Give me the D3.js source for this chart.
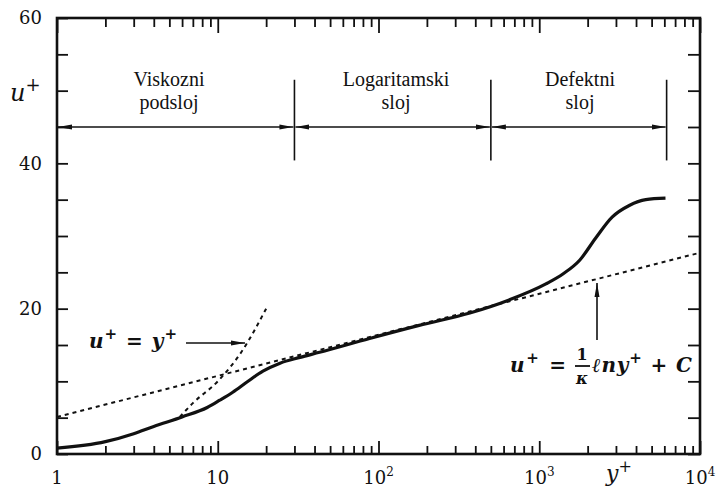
<!DOCTYPE html>
<html>
<head>
<meta charset="utf-8">
<script src="https://cdn.jsdelivr.net/npm/d3@7"></script>
<style>
  body { margin: 0; background: #fff; }
  svg { display: block; }
  .tick text { font-family: "DejaVu Serif", "Liberation Serif", "Times New Roman", serif; font-size: 18px; fill: #111; }
  .lbl { font-family: "Liberation Serif", "Times New Roman", "DejaVu Serif", serif; font-size: 20px; fill: #111; }
  .num { font-family: "DejaVu Serif", "Liberation Serif", serif; font-size: 18px; fill: #111; }
  .eq { font-family: "DejaVu Serif", "Liberation Serif", serif; font-size: 20px; font-weight: bold; font-style: italic; fill: #111; }
</style>
</head>
<body>
<svg width="718" height="488"></svg>
<script>
// velocity profile (y+, u+)
var profileY = [1, 2, 3, 4, 6, 8.6, 10.3, 12.4, 15.2, 19.1, 24.4, 32.5, 43, 88, 179, 370, 650, 1100, 1410, 1790, 2240, 2840, 3630, 4600, 6100];
var profileU = [0.8, 1.7, 2.8, 3.8, 5.1, 6.4, 7.4, 8.5, 9.9, 11.4, 12.5, 13.3, 14.0, 15.9, 17.7, 19.4, 21.2, 23.4, 24.8, 26.7, 29.7, 32.6, 34.2, 35.0, 35.2];

// viscous sublayer line u+ = y+
var viscY = [5.8, 7, 10, 14, 20];
var viscU = [5.1, 7, 10, 14, 20];

// log law line
var logY = [1, 10000];
var logU = [5.1, 27.7];

// region boundaries and arrow level
var bounds = [30, 500, 6200];
var arrowU = 45, boundTop = 51.5, boundBottom = 40.4;

var yTicks = [0, 20, 40, 60];
var xLabels = [[1, "1", ""], [10, "10", ""], [100, "10", "2"], [1000, "10", "3"], [10000, "10", "4"]];

var svg = d3.select("svg");

var x = d3.scaleLog().domain([1, 10000]).range([57, 700]),
    y = d3.scaleLinear().domain([0, 60]).range([454, 18]);

var defs = svg.append("defs");
defs.append("marker")
    .attr("id", "head")
    .attr("viewBox", "0 0 14 6")
    .attr("refX", 14).attr("refY", 3)
    .attr("markerWidth", 14).attr("markerHeight", 6)
    .attr("markerUnits", "userSpaceOnUse")
    .attr("orient", "auto-start-reverse")
  .append("path")
    .attr("d", "M0,0.5L14,3L0,5.5Z")
    .attr("fill", "#111");

var minor = [], major = [1, 10, 100, 1000, 10000];
for (var e = 0; e < 4; e++)
  for (var m = 2; m < 10; m++) minor.push(m * Math.pow(10, e));

function clean(g) { g.select(".domain").remove(); g.selectAll("line").attr("stroke", "#111").attr("stroke-width", 1.8); }

// bottom ticks (inward)
svg.append("g").attr("transform", "translate(0," + y(0) + ")")
    .call(d3.axisBottom(x).tickValues(minor).tickSize(-8).tickFormat(""))
    .call(clean);
svg.append("g").attr("transform", "translate(0," + y(0) + ")")
    .call(d3.axisBottom(x).tickValues(major).tickSize(-13).tickFormat(""))
    .call(clean);
// top ticks (inward)
svg.append("g").attr("transform", "translate(0," + y(60) + ")")
    .call(d3.axisTop(x).tickValues(minor).tickSize(-9).tickFormat(""))
    .call(clean);
svg.append("g").attr("transform", "translate(0," + y(60) + ")")
    .call(d3.axisTop(x).tickValues(major).tickSize(-15).tickFormat(""))
    .call(clean);
// left ticks with labels
svg.append("g").attr("transform", "translate(" + x(1) + ",0)")
    .call(d3.axisLeft(y).tickValues(d3.range(0, 61, 5)).tickSize(-11).tickPadding(15)
      .tickFormat(function(d) { return yTicks.indexOf(d) >= 0 ? d : ""; }))
    .call(clean);
// right ticks
svg.append("g").attr("transform", "translate(" + x(10000) + ",0)")
    .call(d3.axisRight(y).tickValues(d3.range(0, 61, 5)).tickSize(-12).tickFormat(""))
    .call(clean);

// frame
svg.append("rect")
    .attr("x", x(1)).attr("y", y(60))
    .attr("width", x(10000) - x(1)).attr("height", y(0) - y(60))
    .attr("fill", "none").attr("stroke", "#111").attr("stroke-width", 2.6);

// x labels
var xl = svg.append("g").selectAll("text")
  .data(xLabels)
  .enter().append("text")
    .attr("class", "num")
    .attr("x", function(d) { return x(d[0]); })
    .attr("y", 484)
    .attr("text-anchor", "middle");
xl.append("tspan").text(function(d) { return d[1]; });
xl.append("tspan").attr("dy", -8).style("font-size", "12px").text(function(d) { return d[2]; });

// axis titles
var ut = svg.append("text").attr("class", "eq").attr("x", 10).attr("y", 101)
    .style("font-weight", "normal").style("font-size", "24px");
ut.append("tspan").text("u");
ut.append("tspan").attr("dy", -10).style("font-size", "18px").text("+");
var yt = svg.append("text").attr("class", "eq").attr("x", 606).attr("y", 481)
    .style("font-weight", "normal").style("font-size", "22px");
yt.append("tspan").text("y");
yt.append("tspan").attr("dy", -9).style("font-size", "16px").text("+");

// curves
var line = d3.line()
    .x(function(d) { return x(d[0]); })
    .y(function(d) { return y(d[1]); })
    .curve(d3.curveMonotoneX);

svg.append("path")
    .datum(logY.map(function(v, i) { return [v, logU[i]]; }))
    .attr("d", line)
    .attr("fill", "none").attr("stroke", "#111").attr("stroke-width", 2)
    .attr("stroke-dasharray", "4,4");

svg.append("path")
    .datum(viscY.map(function(v, i) { return [v, viscU[i]]; }))
    .attr("d", line)
    .attr("fill", "none").attr("stroke", "#111").attr("stroke-width", 2)
    .attr("stroke-dasharray", "4,4");

svg.append("path")
    .datum(profileY.map(function(v, i) { return [v, profileU[i]]; }))
    .attr("d", line)
    .attr("fill", "none").attr("stroke", "#111").attr("stroke-width", 3.2)
    .attr("stroke-linejoin", "round");

// region boundaries
svg.append("g").selectAll("line")
  .data(bounds)
  .enter().append("line")
    .attr("x1", function(d) { return x(d); }).attr("x2", function(d) { return x(d); })
    .attr("y1", y(boundTop)).attr("y2", y(boundBottom))
    .attr("stroke", "#111").attr("stroke-width", 1.6);

var edges = [1].concat(bounds);
svg.append("g").selectAll("line")
  .data(d3.pairs(edges))
  .enter().append("line")
    .attr("x1", function(d) { return x(d[0]) + 1; }).attr("x2", function(d) { return x(d[1]) - 1; })
    .attr("y1", y(arrowU)).attr("y2", y(arrowU))
    .attr("stroke", "#111").attr("stroke-width", 1.6)
    .attr("marker-start", "url(#head)").attr("marker-end", "url(#head)");

// region labels
var regions = [[169, "Viskozni", "podsloj"], [396, "Logaritamski", "sloj"], [580, "Defektni", "sloj"]];
regions.forEach(function(r) {
  svg.append("text").attr("class", "lbl").attr("x", r[0]).attr("y", 86).attr("text-anchor", "middle").text(r[1]);
  svg.append("text").attr("class", "lbl").attr("x", r[0]).attr("y", 109).attr("text-anchor", "middle").text(r[2]);
});

// equation u+ = y+
var e1 = svg.append("text").attr("class", "eq").attr("x", 89).attr("y", 348)
    .attr("textLength", 88).attr("lengthAdjust", "spacing");
e1.append("tspan").text("u");
e1.append("tspan").attr("dy", -9).style("font-size", "15px").text("+");
e1.append("tspan").attr("dy", 9).text(" = y");
e1.append("tspan").attr("dy", -9).style("font-size", "15px").text("+");
svg.append("line")
    .attr("x1", 186).attr("x2", 245).attr("y1", 343).attr("y2", 343)
    .attr("stroke", "#111").attr("stroke-width", 1.6)
    .attr("marker-end", "url(#head)");

// equation log law
var e2a = svg.append("text").attr("class", "eq").attr("x", 510).attr("y", 372)
    .attr("textLength", 56).attr("lengthAdjust", "spacing");
e2a.append("tspan").text("u");
e2a.append("tspan").attr("dy", -9).style("font-size", "15px").text("+");
e2a.append("tspan").attr("dy", 9).text(" =");
var e2b = svg.append("text").attr("class", "eq").attr("x", 592).attr("y", 372)
    .attr("textLength", 100).attr("lengthAdjust", "spacing");
e2b.append("tspan").text("\u2113ny");
e2b.append("tspan").attr("dy", -9).style("font-size", "15px").text("+");
e2b.append("tspan").attr("dy", 9).text(" + C");
svg.append("text").attr("class", "eq").style("font-style", "normal").style("font-size", "16px")
    .attr("x", 582).attr("y", 360).attr("text-anchor", "middle").text("1");
svg.append("line").attr("x1", 575).attr("x2", 590).attr("y1", 366).attr("y2", 366)
    .attr("stroke", "#111").attr("stroke-width", 1.8);
svg.append("text").attr("class", "eq").style("font-size", "16px")
    .attr("x", 582).attr("y", 384).attr("text-anchor", "middle").text("\u03ba");
svg.append("line")
    .attr("x1", 597).attr("x2", 597).attr("y1", 340).attr("y2", 283)
    .attr("stroke", "#111").attr("stroke-width", 1.6)
    .attr("marker-end", "url(#head)");
</script>
</body>
</html>
